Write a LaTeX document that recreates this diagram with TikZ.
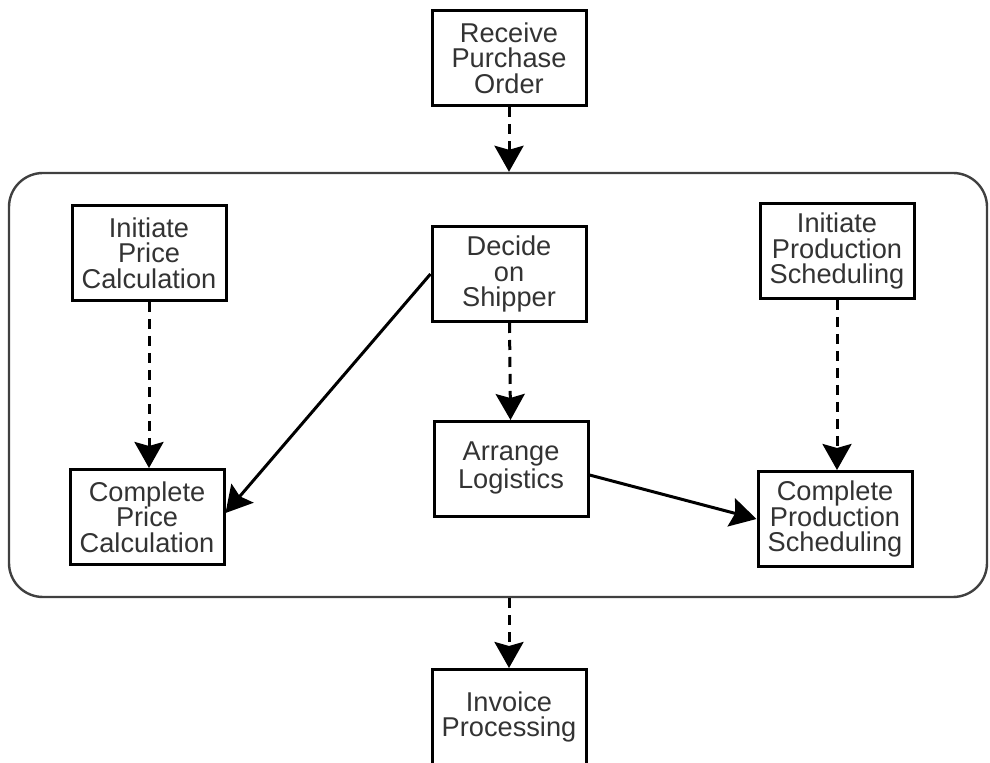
\documentclass[tikz,border=0pt]{standalone}
\usepackage{fontspec}
\setmainfont{Liberation Sans}
\usetikzlibrary{arrows.meta,positioning}

\begin{document}
\begin{tikzpicture}[
  x=0.5pt, y=-0.5pt,
  font=\fontsize{13.6}{12.8}\selectfont,
  task/.style={
    draw,
    line width=1.5pt,
    align=center,
    text=black!80,
    minimum width=77pt,
    minimum height=47.5pt,
    inner sep=2pt
  },
  arrow/.style={-{Stealth[length=13pt,width=14.5pt,inset=2pt]}, line width=1.5pt},
  dasharrow/.style={arrow, dash pattern=on 5pt off 3.5pt}
]
\useasboundingbox (0,0) rectangle (990,763);

\node[draw, line width=1.2pt, draw=black!75, rounded corners=17pt,
  minimum width=489pt, minimum height=212pt] (phase) at (498,385) {};

\node[task] (receive) at (509,58) {Receive\\Purchase\\Order};
\node[task] (initprice) at (149,253) {Initiate\\Price\\Calculation};
\node[task] (shipper) at (509,274) {Decide\\on\\Shipper};
\node[task] (initprod) at (837,251) {Initiate\\Production\\Scheduling};
\node[task] (logistics) at (511,469) {\raisebox{2pt}{\begin{tabular}{@{}c@{}}Arrange\\Logistics\end{tabular}}};
\node[task] (cprice) at (147,517) {Complete\\Price\\Calculation};
\node[task] (cprod) at (835,519) {Complete\\Production\\Scheduling};
\node[task] (invoice) at (509,717) {Invoice\\Processing};

\draw[dasharrow] (receive) -- (receive |- phase.north);
\draw[dasharrow] (initprice) -- (initprice |- cprice.north);
\draw[dasharrow] (shipper) -- (logistics);
\draw[dasharrow] (initprod) -- (initprod |- cprod.north);
\draw[arrow] (shipper.west) -- ([yshift=2pt]cprice.east);
\draw[arrow] ([yshift=-3pt]logistics.east) -- (cprod.west);
\draw[dasharrow] (invoice |- phase.south) -- (invoice);

\end{tikzpicture}
\end{document}
